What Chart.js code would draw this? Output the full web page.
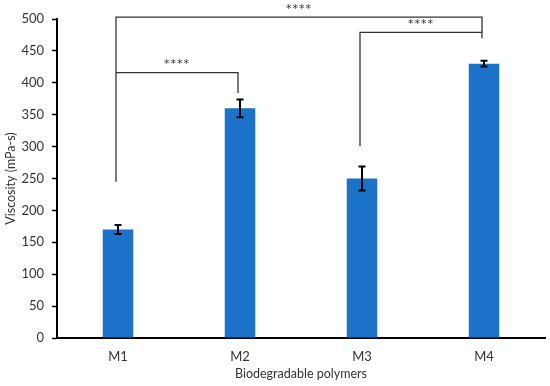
<!DOCTYPE html>
<html lang="en">
<head>
    <meta charset="UTF-8">
    <title>Viscosity of biodegradable polymers</title>
    <script src="https://cdn.jsdelivr.net/npm/chart.js"></script>
    <style>
        html, body { margin: 0; padding: 0; background: #fff; }
        #wrap { width: 550px; height: 386px; position: relative; }
    </style>
</head>
<body>
    <div id="wrap"><canvas id="viscosityChart"></canvas></div>

    <script>
        const polymers = ["M1", "M2", "M3", "M4"];
        const viscosity = [170, 360, 250, 430];
        const viscosityErr = [7, 14, 19, 4.5];
        const yTicks = [0, 50, 100, 150, 200, 250, 300, 350, 400, 450, 500];

        // significance brackets: [fromIndex, toIndex, level, leftLegBottom, rightLegBottom]
        const brackets = [
            [0, 3, 503, 245, 470],
            [0, 1, 416, 416, 384],
            [2, 3, 479, 301, 479]
        ];
        const bracketLabels = ["****", "****", "****"];

        const fontFamily = "Lato, 'Open Sans', sans-serif";

        const annotations = {
            id: "annotations",
            afterDatasetsDraw(chart) {
                const { ctx, scales: { x, y } } = chart;
                ctx.save();

                // error bars
                ctx.strokeStyle = "#000";
                ctx.lineWidth = 2;
                viscosity.forEach((v, i) => {
                    const cx = x.getPixelForValue(i);
                    const top = y.getPixelForValue(v + viscosityErr[i]);
                    const bot = y.getPixelForValue(v - viscosityErr[i]);
                    ctx.beginPath();
                    ctx.moveTo(cx, top); ctx.lineTo(cx, bot);
                    ctx.moveTo(cx - 3.5, top); ctx.lineTo(cx + 3.5, top);
                    ctx.moveTo(cx - 3.5, bot); ctx.lineTo(cx + 3.5, bot);
                    ctx.stroke();
                });

                // brackets
                ctx.strokeStyle = "#333";
                ctx.lineWidth = 1.3;
                ctx.fillStyle = "#333";
                ctx.font = "11px 'DejaVu Sans'";
                ctx.letterSpacing = "1px";
                ctx.textAlign = "center";
                ctx.textBaseline = "middle";
                brackets.forEach((b, k) => {
                    const x1 = x.getPixelForValue(b[0]) - 2;
                    const x2 = x.getPixelForValue(b[1]) - 2;
                    const yl = y.getPixelForValue(b[2]);
                    ctx.beginPath();
                    ctx.moveTo(x1, y.getPixelForValue(b[3]));
                    ctx.lineTo(x1, yl);
                    ctx.lineTo(x2, yl);
                    ctx.lineTo(x2, y.getPixelForValue(b[4]));
                    ctx.stroke();
                    ctx.fillText(bracketLabels[k], (x1 + x2) / 2, yl - 8);
                });

                ctx.restore();
            }
        };

        new Chart(document.getElementById("viscosityChart"), {
            type: "bar",
            data: {
                labels: polymers,
                datasets: [{
                    label: "Viscosity",
                    data: viscosity,
                    backgroundColor: "#1B72C8",
                    borderWidth: 0,
                    categoryPercentage: 1,
                    barPercentage: 0.25
                }]
            },
            options: {
                responsive: true,
                maintainAspectRatio: false,
                animation: false,
                layout: { padding: { top: 19, right: 5, left: 0, bottom: 0 } },
                plugins: { legend: { display: false }, tooltip: { enabled: false } },
                scales: {
                    x: {
                        grid: { display: false },
                        border: { display: true, color: "#000", width: 2 },
                        ticks: { color: "#333", padding: 3, font: { family: fontFamily, size: 13 } },
                        title: {
                            display: true,
                            text: "Biodegradable polymers",
                            color: "#333",
                            font: { family: fontFamily, size: 12.5 },
                            padding: { top: 0, bottom: 5 }
                        },
                        afterFit: s => { s.height = 48; }
                    },
                    y: {
                        min: 0,
                        max: 500,
                        afterBuildTicks: s => { s.ticks = yTicks.map(v => ({ value: v })); },
                        grid: { drawOnChartArea: false, drawTicks: true, tickLength: 5, tickColor: "#000", tickWidth: 1.5 },
                        border: { display: true, color: "#000", width: 2 },
                        ticks: { color: "#333", padding: 8, font: { family: fontFamily, size: 13 } },
                        title: {
                            display: true,
                            text: "Viscosity (mPa-s)",
                            color: "#333",
                            font: { family: fontFamily, size: 12.5 },
                            padding: { top: 3, bottom: 0 }
                        },
                        afterFit: s => { s.width = 57; }
                    }
                }
            },
            plugins: [annotations]
        });
    </script>
</body>
</html>
